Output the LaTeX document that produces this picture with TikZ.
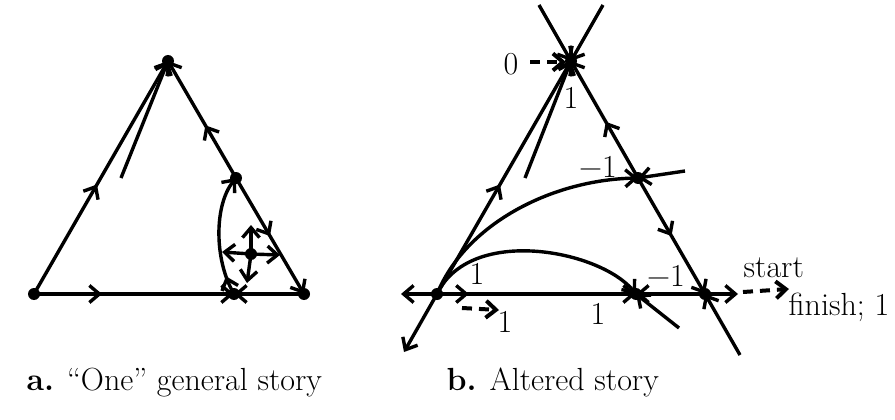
\documentclass[tikz,border=0pt]{standalone}
\usetikzlibrary{arrows.meta,decorations.markings}
\begin{document}
\begin{tikzpicture}[x=1pt,y=-1pt,line width=3.4pt,
  >={Straight Barb[length=10pt,width=17pt]},
  dot/.style={circle,fill,inner sep=0pt,minimum size=12pt},
  lbl/.style={font=\fontsize{32}{38}\selectfont,inner sep=0pt},
  midarr/.style={postaction={decorate,decoration={markings,mark=at position #1 with {\arrow{>}}}}},
  dsh/.style={line width=4pt,dash pattern=on 10pt off 7pt,->}]
\useasboundingbox (0,0) rectangle (895,420);

% ---------- panel a ----------
\node[dot] (A1) at (34,294) {};
\node[dot] (T1) at (168,61) {};
\node[dot] (R1) at (304,294) {};
\node[dot] (S1) at (236,178) {};
\node[dot] (B1) at (234,294) {};
\node[dot] (C1) at (251,254) {};
\coordinate (I1) at (121,178);
\coordinate (Cu) at (251,225);
\coordinate (Cl) at (222,252);
\coordinate (Cr) at (280,255);
\coordinate (Cd) at (247,283);

\draw[->,midarr=0.47] (A1.center) -- (T1.center);
\draw[->] (I1) -- (T1.center);
\draw[->,midarr=0.45] (S1.center) -- (T1.center);
\draw[->,midarr=0.5] (S1.center) -- (R1.center);
\draw[->,midarr=0.34] (A1.center) -- (B1.center);
\draw[->] (R1.center) -- (B1.center);
\draw[->,midarr=0.16] (B1.center) .. controls (214,260) and (214,205) .. (S1.center);
\draw[->] (C1.center) -- (Cu);
\draw[->] (C1.center) -- (Cl);
\draw[->] (C1.center) -- (Cr);
\draw[->] (C1.center) -- (Cd);

% ---------- panel b ----------
\node[dot] (L2) at (437,294) {};
\node[dot] (T2) at (571,61) {};
\node[dot] (R2) at (705,294) {};
\node[dot] (M2) at (638,178) {};
\node[dot] (B2) at (636,294) {};
\coordinate (TL) at (539,5);
\coordinate (TR) at (603,5);
\coordinate (LL) at (404,352);
\coordinate (RL) at (740,355);
\coordinate (HL) at (401,294);
\coordinate (HR) at (738,294);
\coordinate (I2) at (525,178);
\coordinate (ME) at (685,171);
\coordinate (BE) at (679,328);

\draw[->] (TL) -- (T2.center);
\draw[->] (TR) -- (T2.center);
\draw[->,midarr=0.47] (L2.center) -- (T2.center);
\draw[->] (I2) -- (T2.center);
\draw[->,midarr=0.48] (M2.center) -- (T2.center);
\draw[->,midarr=0.5] (M2.center) -- (R2.center);
\draw[->] (RL) -- (R2.center);
\draw[->] (L2.center) -- (LL);
\draw[->] (L2.center) -- (HL);
\draw[->,midarr=0.16] (L2.center) -- (B2.center);
\draw[->] (R2.center) -- (B2.center);
\draw[->] (R2.center) -- (HR);
\draw[->] (BE) -- (B2.center);
\draw[->] (L2.center) .. controls (465,225) and (550,180) .. (M2.center);
\draw[->] (ME) -- (M2.center);
\draw[->] (L2.center) .. controls (470,225) and (600,250) .. (B2.center);

% labels and dashed pointers
\node[lbl] (n0) at (511,64) {0};
\coordinate (d0a) at (530,62);
\coordinate (d0b) at (566,62);
\draw[dsh] (d0a) -- (d0b);
\node[lbl] (nt1) at (571,98) {1};
\node[lbl] (nm1) at (598,167) {−1};
\node[lbl] (nl1) at (477,274) {1};
\coordinate (d1a) at (462,308);
\coordinate (d1b) at (499,310);
\draw[dsh] (d1a) -- (d1b);
\node[lbl] (nl2) at (505,322) {1};
\node[lbl] (nb1) at (598,314) {1};
\node[lbl] (nb2) at (666,276) {−1};
\coordinate (d2a) at (743,292);
\coordinate (d2b) at (789,289);
\draw[dsh] (d2a) -- (d2b);
\node[lbl,anchor=base west] (nst) at (742,277) {start};
\node[lbl,anchor=base west] (nfi) at (787,315) {finish; 1};

% captions
\node[lbl,anchor=base west] (capa) at (25,390) {\textbf{a.} “One” general story};
\node[lbl,anchor=base west] (capb) at (445,390) {\textbf{b.} Altered story};
\end{tikzpicture}
\end{document}
